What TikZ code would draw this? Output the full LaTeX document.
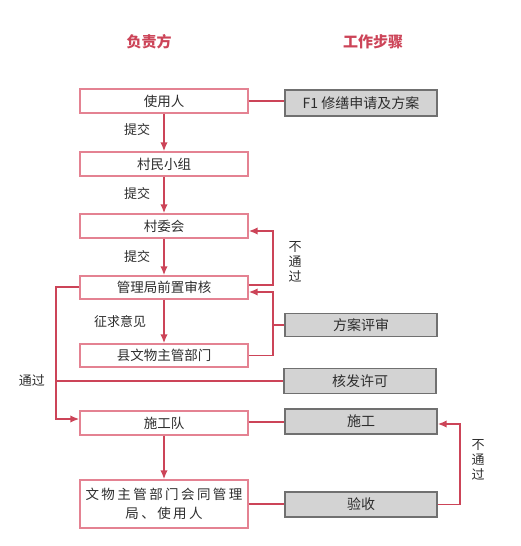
\documentclass[tikz,border=0pt]{standalone}
\usepackage{fontspec}
\setmainfont{Noto Sans CJK SC}
\newfontfamily\widecjk[LetterSpace=18]{Noto Sans CJK SC}
\usepackage{tikz}
\usepackage{xcolor}
\usetikzlibrary{shapes, arrows.meta}

\definecolor{flowred}{RGB}{204,68,88}
\definecolor{boxpink}{RGB}{228,130,146}
\definecolor{stepgray}{RGB}{211,211,211}
\definecolor{stepline}{RGB}{112,112,112}
\definecolor{inktext}{RGB}{45,45,45}

\tikzset{
    partybox/.style={draw=boxpink, line width=1.3pt, fill=white, minimum width=168, minimum height=24, inner sep=0.75pt, text=inktext, font=\fontsize{13.5}{16}\selectfont},
    stepbox/.style={draw=stepline, line width=1.3pt, fill=stepgray, minimum width=152, minimum height=25, inner sep=0.75pt, text=inktext, font=\fontsize{14}{16}\selectfont},
    flow/.style={draw=flowred, line width=1.8pt},
    flowarrow/.style={flow, -{Latex[length=9pt,width=7.5pt]}},
    note/.style={inner sep=0.75pt, text=inktext, font=\fontsize{13}{15}\selectfont, align=center},
    header/.style={inner sep=0.75pt, text=flowred, font=\bfseries\fontsize{15}{17}\selectfont}
}

\begin{document}
\begin{tikzpicture}[x=1pt,y=1pt,yscale=-1,xscale=1]
    \useasboundingbox (0,0) rectangle (520,546);

    % Headers
    \node [header] (hparty) at (149,42) {负责方};
    \node [header] (hstep) at (373,42) {工作步骤};

    % Left column
    \node [partybox] (user) at (164,101) {使用人};
    \node [partybox] (group) at (164,164) {村民小组};
    \node [partybox] (vc) at (164,226) {村委会};
    \node [partybox, minimum height=23] (review) at (164,287.5) {管理局前置审核};
    \node [partybox, minimum height=23] (county) at (164,355.5) {县文物主管部门};
    \node [partybox] (team) at (164,423) {施工队};
    \node [partybox, minimum height=48, align=center, font=\widecjk\fontsize{13.5}{19}\selectfont] (accept) at (164,504) {文物主管部门会同管理\\局、使用人};

    % Right column
    \node [stepbox, minimum height=26] (f1) at (361,103) {F1 修缮申请及方案};
    \node [stepbox, minimum height=23] (eval) at (361,325) {方案评审};
    \node [stepbox] (permit) at (360,381) {核发许可};
    \node [stepbox] (build) at (361,421.5) {施工};
    \node [stepbox] (check) at (361,504.5) {验收};

    % Down arrows
    \draw [flowarrow] (user) -- (group);
    \draw [flowarrow] (group) -- (vc);
    \draw [flowarrow] (vc) -- (review);
    \draw [flowarrow] (review) -- (county);
    \draw [flowarrow] (team) -- (accept);

    % Links to steps
    \draw [flow] (user.east) -- (user.east -| f1.west);
    \draw [flow] ([yshift=-1pt]team.east) -- ([yshift=-1pt]team.east -| build.west);
    \draw [flow] (accept.east) -- (accept.east -| check.west);

    % Not passed, back to village committee
    \draw [flowarrow] ([yshift=-2.5pt]review.east) -- ++(24,0) |- ([yshift=5pt]vc.east);
    % Opinions back to review
    \draw [flowarrow] (county.east) -- ++(24,0) |- ([yshift=4.5pt]review.east);
    \coordinate (evaljoin) at (272,325);
    \draw [flow] (eval.west) -- (evaljoin);

    % Passed, to construction team
    \draw [flowarrow] ([yshift=-0.5pt]review.west) -- ++(-23,0) |- ([yshift=-4pt]team.west);
    \coordinate (passjoin) at (57,381);
    \draw [flow] (passjoin) -- (permit.west);

    % Not passed, back to construction
    \draw [flowarrow] (check.east) -- ++(22,0) |- ([yshift=2.5pt]build.east);

    % Labels
    \node [note] (lsub1) at (137,130) {提交};
    \node [note] (lsub2) at (137,194) {提交};
    \node [note] (lsub3) at (137,257) {提交};
    \node [note] (lask) at (120,322) {征求意见};
    \node [note] (lfail1) at (295,262) {不\\通\\过};
    \node [note] (lfail2) at (478,460) {不\\通\\过};
    \node [note] (lpass) at (32,381) {通过};
\end{tikzpicture}
\end{document}
